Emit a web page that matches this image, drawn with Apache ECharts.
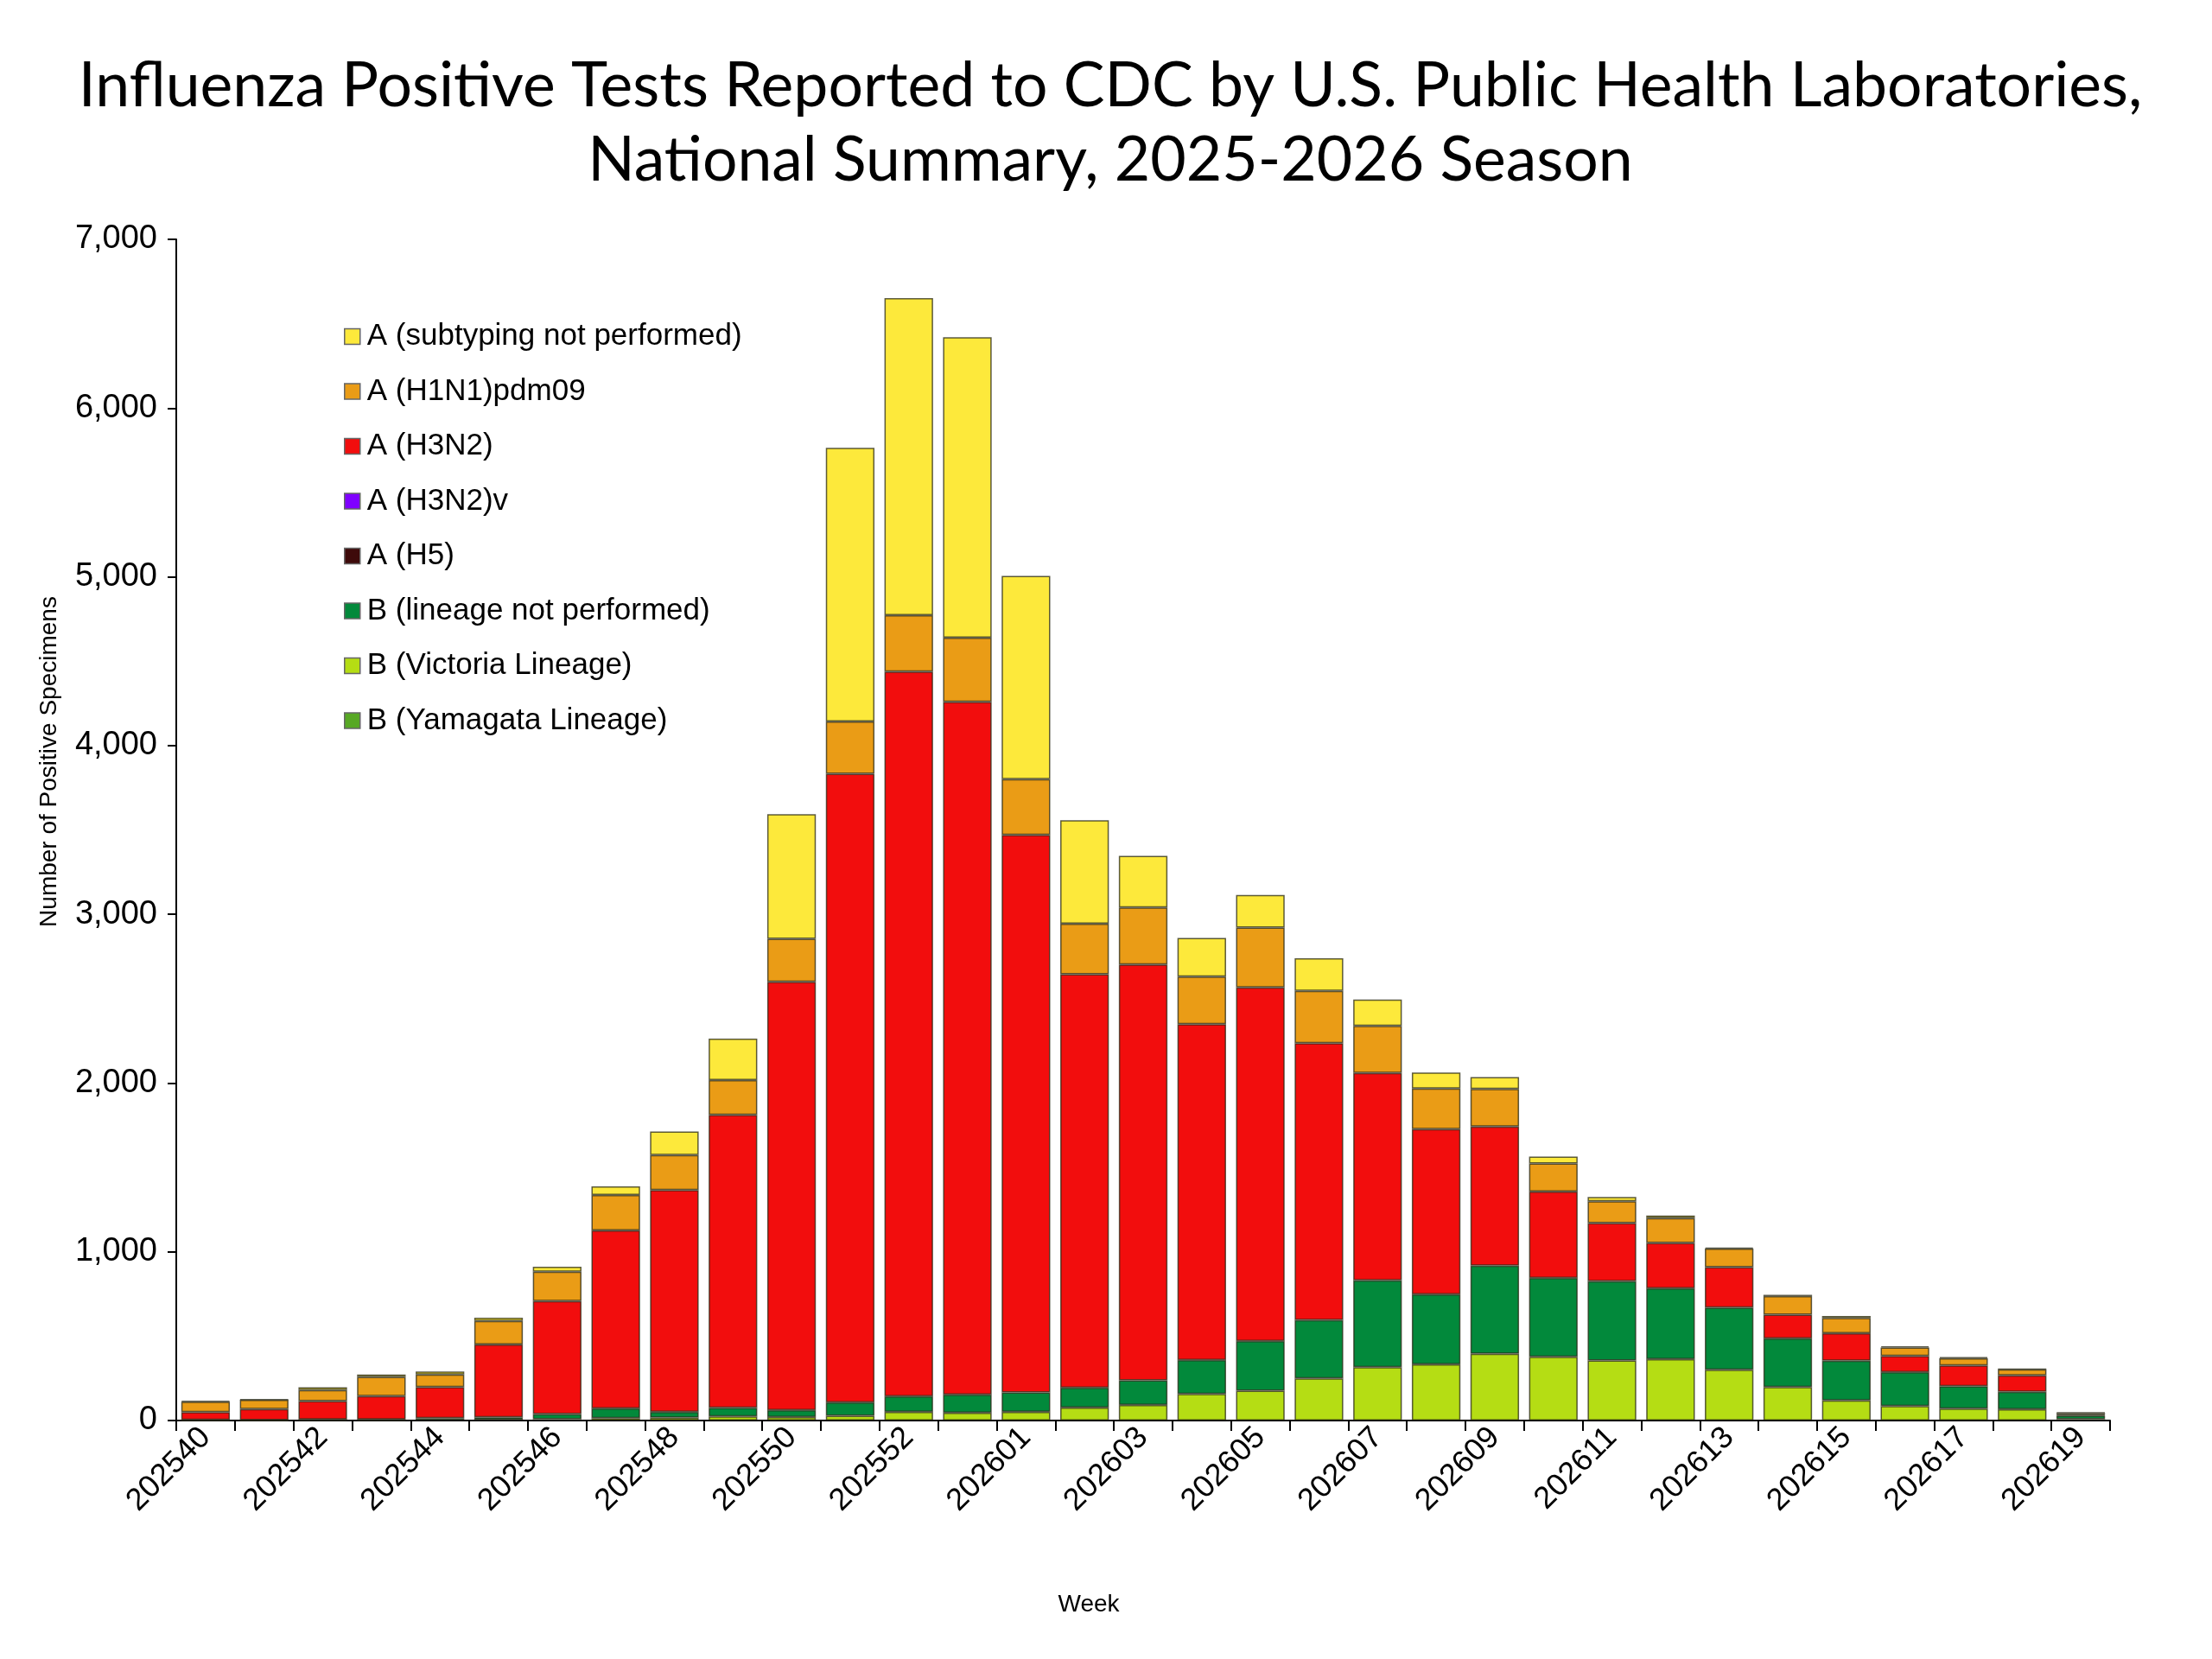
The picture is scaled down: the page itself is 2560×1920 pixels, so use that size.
<!DOCTYPE html>
<html>
<head>
<meta charset="utf-8">
<script src="https://cdn.jsdelivr.net/npm/echarts@6/dist/echarts.min.js"></script>
<style>html,body{margin:0;padding:0;background:#fff;}#chart{width:2560px;height:1920px;}</style>
</head>
<body>
<div id="chart"></div>
<script>
const weeks = ['202540','202541','202542','202543','202544','202545','202546','202547','202548','202549',
  '202550','202551','202552','202553','202601','202602','202603','202604','202605','202606','202607',
  '202608','202609','202610','202611','202612','202613','202614','202615','202616','202617','202618','202619'];

const bVictoria = [2,1,3,3,4,5,8,14,17,24, 21,28,51,46,51,77, 92,158,177,250,316,333,396, 378,356,364,301,199,119,86,70,67,8];
const bNotPerformed = [2,2,3,4,10,14,30,58,34,51, 41,80,92,108,115,118, 146,201,294,345,515,415,522, 467,470,420,369,287,235,201,133,103,22];
const bYamagata = [0,0,0,0,0,0,0,0,0,0, 0,0,0,0,0,0, 0,0,0,0,0,0,0, 0,0,0,0,0,0,0,0,0,0];
const aH5 = [0,0,0,0,0,0,0,0,0,0, 0,0,0,0,0,0, 0,0,0,0,0,0,0, 0,0,0,0,0,0,0,0,0,0];
const aH3N2v = [0,0,0,0,0,0,0,0,0,0, 0,0,0,0,0,0, 0,0,0,0,0,0,0, 0,0,0,0,0,0,0,0,0,0];
const aH3N2 = [46,65,109,138,184,431,670,1054,1315,1737, 2538,3725,4295,4105,3305,2450, 2465,1990,2096,1642,1229,979,824, 512,344,268,239,141,163,96,123,98,4];
const aH1N1 = [61,55,66,113,75,140,174,211,207,205, 255,310,335,380,330,300, 338,282,355,309,279,240,223, 167,129,147,110,110,91,50,43,36,10];
const aNotSubtyped = [5,3,16,15,17,20,29,51,140,246, 738,1622,1879,1781,1204,613, 305,229,193,194,156,95,70, 41,26,16,6,8,12,7,6,2,3];

const yTicks = [0,1000,2000,3000,4000,5000,6000,7000];

const names = {
  ns: 'A (subtyping not performed)',
  h1: 'A (H1N1)pdm09',
  h3: 'A (H3N2)',
  h3v: 'A (H3N2)v',
  h5: 'A (H5)',
  bnp: 'B (lineage not performed)',
  bv: 'B (Victoria Lineage)',
  by: 'B (Yamagata Lineage)'
};
const colors = {
  ns: '#FDE93B', h1: '#EA9C16', h3: '#F20D0D', h3v: '#7F00FF', h5: '#3E0A0A',
  bnp: '#02893B', bv: '#B5DD14', by: '#57A824'
};

function mk(key, data, border) {
  return {
    name: names[key], type: 'bar', stack: 'total', data: data,
    barCategoryGap: '17%',
    itemStyle: { color: colors[key], borderColor: 'rgba(40,40,20,0.75)', borderWidth: border ? 1.5 : 0 },
    emphasis: { disabled: true }
  };
}

const chart = echarts.init(document.getElementById('chart'), null, { renderer: 'canvas' });
chart.setOption({
  backgroundColor: '#ffffff',
  animation: false,
  title: {
    text: 'Influenza Positive Tests Reported to CDC by U.S. Public Health Laboratories,\nNational Summary, 2025-2026 Season',
    left: 1280, top: 52, textAlign: 'center',
    textStyle: { fontFamily: 'Lato', fontWeight: 'normal', fontSize: 71.5, lineHeight: 86, color: '#000' }
  },
  legend: {
    orient: 'vertical', left: 393, top: 367,
    itemWidth: 18, itemHeight: 18, itemGap: 28.5, icon: 'rect',
    data: [names.ns, names.h1, names.h3, names.h3v, names.h5, names.bnp, names.bv, names.by],
    itemStyle: { borderColor: '#666', borderWidth: 1.5 },
    textStyle: { fontFamily: 'Liberation Sans', fontSize: 35, lineHeight: 35, color: '#000', padding: [0, 0, 0, 3] },
    selectedMode: false
  },
  grid: { left: 204, right: 118, top: 277, bottom: 276, containLabel: false },
  xAxis: {
    type: 'category', data: weeks, boundaryGap: true,
    name: 'Week', nameLocation: 'middle', nameGap: 199,
    nameTextStyle: { fontFamily: 'Liberation Sans', fontSize: 28, color: '#000', padding: [0, 126, 0, 0] },
    axisLine: { show: true, lineStyle: { color: '#000', width: 2 } },
    axisTick: { show: true, interval: 0, length: 12, lineStyle: { color: '#000', width: 2 } },
    axisLabel: { interval: 1, rotate: 45, fontFamily: 'Liberation Sans', fontSize: 36, color: '#000', margin: 14 },
    splitLine: { show: false }
  },
  yAxis: {
    type: 'value', min: yTicks[0], max: yTicks[yTicks.length - 1], interval: 1000,
    name: 'Number of Positive Specimens', nameLocation: 'middle', nameGap: 133,
    nameTextStyle: { fontFamily: 'Liberation Sans', fontSize: 28, color: '#000', padding: [0, 0, 0, 158] },
    axisLine: { show: true, lineStyle: { color: '#000', width: 2 } },
    axisTick: { show: true, length: 10, lineStyle: { color: '#000', width: 2 } },
    axisLabel: { fontFamily: 'Liberation Sans', fontSize: 38, color: '#000', margin: 22,
      formatter: v => v.toLocaleString('en-US') },
    splitLine: { show: false }
  },
  series: [
    mk('bv', bVictoria, true),
    mk('bnp', bNotPerformed, true),
    mk('by', bYamagata, false),
    mk('h5', aH5, false),
    mk('h3v', aH3N2v, false),
    mk('h3', aH3N2, true),
    mk('h1', aH1N1, true),
    mk('ns', aNotSubtyped, true)
  ]
});
</script>
</body>
</html>
